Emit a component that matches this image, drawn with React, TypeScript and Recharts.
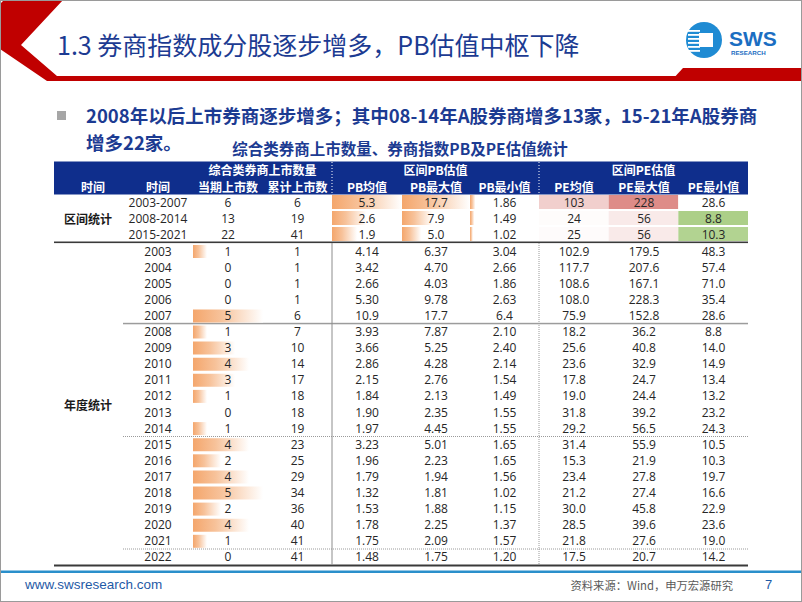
import React from "react";
import { Bar, BarChart, Scatter, ScatterChart, XAxis, YAxis } from "recharts";

// 区间统计
const periods = ["2003-2007", "2008-2014", "2015-2021"];
const periodNew = [6, 13, 22];
const periodCum = [6, 19, 41];
const periodPbMean = [5.3, 2.6, 1.9];
const periodPbMax = [17.7, 7.9, 5.0];
const periodPbMin = [1.86, 1.49, 1.02];
const periodPeMean = [103, 24, 25];
const periodPeMax = [228, 56, 56];
const periodPeMin = [28.6, 8.8, 10.3];

// 年度统计
const years = [
  "2003", "2004", "2005", "2006", "2007", "2008", "2009", "2010", "2011", "2012",
  "2013", "2014", "2015", "2016", "2017", "2018", "2019", "2020", "2021", "2022",
];
const yearNew = [1, 0, 0, 0, 5, 1, 3, 4, 3, 1, 0, 1, 4, 2, 4, 5, 2, 4, 1, 0];
const yearCum = [1, 1, 1, 1, 6, 7, 10, 14, 17, 18, 18, 19, 23, 25, 29, 34, 36, 40, 41, 41];
const yearPbMean = ["4.14", "3.42", "2.66", "5.30", "10.9", "3.93", "3.66", "2.86", "2.15", "1.84", "1.90", "1.97", "3.23", "1.96", "1.79", "1.32", "1.53", "1.78", "1.75", "1.48"];
const yearPbMax = ["6.37", "4.70", "4.03", "9.78", "17.7", "7.87", "5.25", "4.28", "2.76", "2.13", "2.35", "4.45", "5.01", "2.23", "1.94", "1.81", "1.88", "2.25", "2.09", "1.75"];
const yearPbMin = ["3.04", "2.66", "1.86", "2.63", "6.4", "2.10", "2.40", "2.14", "1.54", "1.49", "1.55", "1.55", "1.65", "1.65", "1.56", "1.02", "1.15", "1.37", "1.57", "1.20"];
const yearPeMean = [102.9, 117.7, 108.6, 108.0, 75.9, 18.2, 25.6, 23.6, 17.8, 19.0, 31.8, 29.2, 31.4, 15.3, 23.4, 21.2, 30.0, 28.5, 21.8, 17.5];
const yearPeMax = [179.5, 207.6, 167.1, 228.3, 152.8, 36.2, 40.8, 32.9, 24.7, 24.4, 39.2, 56.5, 55.9, 21.9, 27.8, 27.4, 45.8, 39.6, 27.6, 20.7];
const yearPeMin = [48.3, 57.4, 71.0, 35.4, 28.6, 8.8, 14.0, 14.9, 13.4, 13.2, 23.2, 24.3, 10.5, 10.3, 19.7, 16.6, 22.9, 23.6, 19.0, 14.2];

const groupHeads = ["综合类券商上市数量", "区间PB估值", "区间PE估值"];
const colHeads = ["时间", "时间", "当期上市数", "累计上市数", "PB均值", "PB最大值", "PB最小值", "PE均值", "PE最大值", "PE最小值"];
const peHeads = ["PE均值", "PE最大值", "PE最小值"];

const CJK = '"Noto Sans CJK SC", "Noto Sans", sans-serif';
const NUM = '"Open Sans", "Noto Sans", sans-serif';
const NAVY = "#1c3b92";
const HEAD_BLUE = "#0f2e8c";

// column edges of the table (page px)
const EDGES = [54, 123, 193, 263, 332, 402, 470, 539, 609, 679, 748];
const TABLE_W = EDGES[10] - EDGES[0];
const PERIOD_TOP = 194;
const PERIOD_H = 48;
const YEAR_TOP = 243;
const YEAR_H = 322;

type Row = { key: string; cells: string[] };

const periodRows: Row[] = periods.map((p, i) => ({
  key: p,
  cells: [
    p,
    String(periodNew[i]),
    String(periodCum[i]),
    periodPbMean[i].toFixed(1),
    periodPbMax[i].toFixed(1),
    periodPbMin[i].toFixed(2),
    String(periodPeMean[i]),
    String(periodPeMax[i]),
    periodPeMin[i].toFixed(1),
  ],
}));

const yearRows: Row[] = years.map((y, i) => ({
  key: y,
  cells: [
    y,
    String(yearNew[i]),
    String(yearCum[i]),
    yearPbMean[i],
    yearPbMax[i],
    yearPbMin[i],
    yearPeMean[i].toFixed(1),
    yearPeMax[i].toFixed(1),
    yearPeMin[i].toFixed(1),
  ],
}));

const colCenter = (i: number) => (EDGES[i] + EDGES[i + 1]) / 2;

function TextLayer({ rows, top, height }: { rows: Row[]; top: number; height: number }) {
  const renderTick = (p: any) => {
    const row = rows.find((r) => r.key === p.payload?.value);
    if (!row) return <g />;
    return (
      <g>
        {row.cells.map((c, i) => (
          <text
            key={i}
            x={colCenter(i + 1) - EDGES[0]}
            y={p.y}
            textAnchor="middle"
            dominantBaseline="central"
            fontFamily={NUM}
            fontSize={12}
            fill="#262626"
          >
            {c}
          </text>
        ))}
      </g>
    );
  };
  return (
    <div style={{ position: "absolute", left: EDGES[0], top }}>
      <BarChart layout="vertical" width={TABLE_W} height={height} data={rows} margin={{ top: 0, right: 0, bottom: 0, left: 0 }}>
        <XAxis type="number" hide />
        <YAxis type="category" dataKey="key" mirror axisLine={false} tickLine={false} interval={0} tick={renderTick} />
      </BarChart>
    </div>
  );
}

function DataBars({
  id, keys, values, col, top, height, max, barSize,
}: {
  id: string; keys: string[]; values: number[]; col: number; top: number; height: number; max: number; barSize: number;
}) {
  const data = keys.map((k, i) => ({ key: k, v: values[i] }));
  return (
    <div style={{ position: "absolute", left: EDGES[col], top }}>
      <BarChart layout="vertical" width={EDGES[col + 1] - EDGES[col]} height={height} data={data} margin={{ top: 0, right: 0, bottom: 0, left: 0 }}>
        <defs>
          <linearGradient id={id} x1="0" y1="0" x2="1" y2="0">
            <stop offset="0" stopColor="#F4A66C" />
            <stop offset="0.4" stopColor="#F7C29A" />
            <stop offset="1" stopColor="#FFFFFF" />
          </linearGradient>
        </defs>
        <XAxis type="number" hide domain={[0, max]} allowDataOverflow />
        <YAxis type="category" dataKey="key" hide />
        <Bar dataKey="v" barSize={barSize} fill={`url(#${id})`} isAnimationActive={false} />
      </BarChart>
    </div>
  );
}

const RED = [222, 140, 136];
const GREEN = [172, 207, 136];
const mixWhite = (c: number[], t: number) =>
  `rgb(${c.map((v) => Math.round(255 + (v - 255) * Math.max(0, Math.min(1, t)))).join(",")})`;

function PeHeat() {
  const hiVals = [...periodPeMean, ...periodPeMax];
  const hiLo = Math.min(...hiVals);
  const hiHi = Math.max(...hiVals);
  const minLo = Math.min(...periodPeMin);
  const minHi = Math.max(...periodPeMin);
  const data: { col: string; row: string; fill: string }[] = [];
  periods.forEach((p, r) => {
    data.push({ col: peHeads[0], row: p, fill: mixWhite(RED, 0.03 + (periodPeMean[r] - hiLo) / (hiHi - hiLo)) });
    data.push({ col: peHeads[1], row: p, fill: mixWhite(RED, 0.03 + (periodPeMax[r] - hiLo) / (hiHi - hiLo)) });
    data.push({ col: peHeads[2], row: p, fill: mixWhite(GREEN, (minHi - periodPeMin[r]) / (minHi - minLo)) });
  });
  const w = EDGES[10] - EDGES[7];
  const cellW = w / 3;
  return (
    <div style={{ position: "absolute", left: EDGES[7], top: PERIOD_TOP }}>
      <ScatterChart width={w} height={PERIOD_H} margin={{ top: 0, right: 0, bottom: 0, left: 0 }}>
        <XAxis type="category" dataKey="col" hide allowDuplicatedCategory={false} />
        <YAxis type="category" dataKey="row" hide allowDuplicatedCategory={false} reversed />
        <Scatter
          data={data}
          isAnimationActive={false}
          shape={(p: any) => (
            <rect x={p.cx - cellW / 2} y={p.cy - 7} width={cellW} height={14} fill={p.payload.fill} />
          )}
        />
      </ScatterChart>
    </div>
  );
}

export default function App() {
  return (
    <div style={{ position: "absolute", left: 0, top: 0, width: 802, height: 602, background: "#fff", overflow: "hidden" }}>
      <svg width={802} height={602} style={{ position: "absolute", left: 0, top: 0 }}>
        {/* header chevron and red rule */}
        <polygon points="4,0 63,0 21,45 57,76 802,76 802,81 47,81 0,49 0,4" fill="#C00000" />
        <polygon points="683,68 802,68 802,81 671,81" fill="#C00000" />
        <text x={57} y={44} dominantBaseline="central" fontFamily={CJK} fontSize={25} fill={NAVY}>
          1.3 券商指数成分股逐步增多，PB估值中枢下降
        </text>

        {/* logo */}
        <circle cx={704} cy={40} r={18} fill="#1f8bd3" />
        {[30, 34, 38, 42, 46, 50].map((y) => (
          <rect key={y} x={688} y={y} width={12} height={1.8} fill="#ffffff" />
        ))}
        <rect x={699} y={33} width={14} height={14} fill="#ffffff" />
        <text x={729} y={45.5} fontFamily='"Liberation Sans", Arial, sans-serif' fontWeight={700} fontSize={21} fill="#1b6ec2">SWS</text>
        <text x={731} y={55} fontFamily='"Liberation Sans", Arial, sans-serif' fontWeight={700} fontSize={6.2} fill="#1b6ec2">RESEARCH</text>

        {/* bullet */}
        <rect x={57} y={111} width={9} height={9} fill="#a6a6a6" />
        <text x={86} y={115} dominantBaseline="central" fontFamily={CJK} fontWeight={700} fontSize={18.5} fill={NAVY}>
          2008年以后上市券商逐步增多；其中08-14年A股券商增多13家，15-21年A股券商
        </text>
        <text x={86} y={142} dominantBaseline="central" fontFamily={CJK} fontWeight={700} fontSize={18.5} fill={NAVY}>
          增多22家。
        </text>
        <text x={400} y={148} textAnchor="middle" dominantBaseline="central" fontFamily={CJK} fontWeight={700} fontSize={15.5} fill={NAVY}>
          综合类券商上市数量、券商指数PB及PE估值统计
        </text>

        {/* table header */}
        <rect x={EDGES[0]} y={161.5} width={TABLE_W} height={33} fill={HEAD_BLUE} />
        {groupHeads.map((h, i) => {
          const spans = [[2, 4], [4, 7], [7, 10]][i];
          return (
            <text key={h} x={(EDGES[spans[0]] + EDGES[spans[1]]) / 2} y={169.5} textAnchor="middle" dominantBaseline="central" fontFamily={CJK} fontWeight={700} fontSize={12} fill="#fff">
              {h}
            </text>
          );
        })}
        {colHeads.map((h, i) => (
          <text key={i} x={i === 0 ? 93 : colCenter(i)} y={186} textAnchor="middle" dominantBaseline="central" fontFamily={CJK} fontWeight={700} fontSize={12} fill="#fff">
            {h}
          </text>
        ))}
        <line x1={EDGES[4]} x2={EDGES[4]} y1={162} y2={194} stroke="#fff" strokeDasharray="1 2" />
        <line x1={EDGES[7]} x2={EDGES[7]} y1={162} y2={194} stroke="#fff" strokeDasharray="1 2" />

        {/* table rules */}
        <rect x={EDGES[0]} y={241.5} width={TABLE_W} height={1.6} fill="#3a3a3a" />
        <rect x={EDGES[1]} y={322.8} width={EDGES[10] - EDGES[1]} height={1.5} fill="#9c9c9c" />
        <line x1={EDGES[1]} x2={EDGES[10]} y1={436.5} y2={436.5} stroke="#9a9a9a" strokeDasharray="1 1" />
        <line x1={EDGES[1]} x2={EDGES[10]} y1={549} y2={549} stroke="#9a9a9a" strokeDasharray="1 1" />
        <rect x={EDGES[0]} y={564.5} width={TABLE_W} height={2} fill="#3a3a3a" />
        <line x1={EDGES[4]} x2={EDGES[4]} y1={243} y2={564.5} stroke="#8c8c8c" />
        <line x1={EDGES[7]} x2={EDGES[7]} y1={243} y2={564.5} stroke="#9a9a9a" strokeDasharray="1 1" />

        <text x={88} y={218} textAnchor="middle" dominantBaseline="central" fontFamily={CJK} fontWeight={700} fontSize={12} fill="#1a1a1a">区间统计</text>
        <text x={88} y={404} textAnchor="middle" dominantBaseline="central" fontFamily={CJK} fontWeight={700} fontSize={12} fill="#1a1a1a">年度统计</text>

        {/* footer */}
        <rect x={0} y={570.5} width={802} height={2.5} fill="#2a8fcb" />
        <text x={25} y={584} dominantBaseline="central" fontFamily='"Liberation Sans", Arial, sans-serif' fontSize={13.5} fill="#1f5aa6">www.swsresearch.com</text>
        <text x={733} y={585} textAnchor="end" dominantBaseline="central" fontFamily={CJK} fontSize={11.3} fill="#595959">资料来源：Wind，申万宏源研究</text>
        <text x={765} y={584} dominantBaseline="central" fontFamily='"Liberation Sans", Arial, sans-serif' fontSize={13} fill="#1f5aa6">7</text>
        <rect x={0.5} y={0.5} width={801} height={601} fill="none" stroke="#9a9a9a" />
      </svg>

      <DataBars id="g-new" keys={years} values={yearNew} col={2} top={YEAR_TOP} height={YEAR_H} max={5} barSize={13} />
      <DataBars id="g-pbmean" keys={periods} values={periodPbMean} col={4} top={PERIOD_TOP} height={PERIOD_H} max={5.3} barSize={14} />
      <DataBars id="g-pbmax" keys={periods} values={periodPbMax} col={5} top={PERIOD_TOP} height={PERIOD_H} max={17.7} barSize={14} />
      <DataBars id="g-pbmin" keys={periods} values={periodPbMin} col={6} top={PERIOD_TOP} height={PERIOD_H} max={24} barSize={14} />
      <PeHeat />

      <TextLayer rows={periodRows} top={PERIOD_TOP} height={PERIOD_H} />
      <TextLayer rows={yearRows} top={YEAR_TOP} height={YEAR_H} />
    </div>
  );
}
